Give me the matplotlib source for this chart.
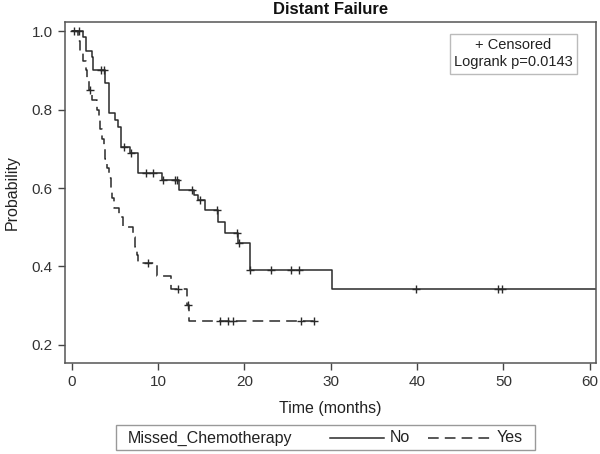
import matplotlib
matplotlib.use("Agg")
import matplotlib.pyplot as plt
from matplotlib.lines import Line2D
from matplotlib.patches import Rectangle

plt.rcParams['font.family'] = ['Liberation Sans', 'DejaVu Sans']

# ---- data ----
no_times = [0, 1.3, 1.7, 2.3, 2.5, 3.9, 4.3, 5.0, 5.4, 5.75, 6.7, 7.7, 10.4, 12.4,
            14.1, 14.6, 15.4, 16.9, 17.7, 19.3, 20.6, 30.1, 61]
no_surv = [1.0, 0.985, 0.95, 0.935, 0.90, 0.867, 0.79, 0.773, 0.756, 0.705, 0.69,
           0.638, 0.62, 0.595, 0.582, 0.57, 0.544, 0.514, 0.486, 0.459, 0.391, 0.342, 0.342]
no_cens_t = [0.3, 0.8, 3.4, 3.7, 6.1, 6.9, 8.65, 9.4, 10.6, 12.0, 12.2, 13.9, 14.8,
             16.8, 19.1, 19.4, 20.7, 23.1, 25.4, 26.3, 39.9, 49.4, 49.8]
no_cens_p = [1.0, 1.0, 0.90, 0.90, 0.705, 0.69, 0.638, 0.638, 0.62, 0.62, 0.62, 0.595,
             0.57, 0.544, 0.486, 0.459, 0.391, 0.391, 0.391, 0.391, 0.342, 0.342, 0.342]

yes_times = [0, 0.7, 1.0, 1.3, 1.6, 1.8, 2.0, 2.3, 2.9, 3.1, 3.3, 3.5, 3.7, 3.9, 4.1,
             4.3, 4.5, 4.7, 4.9, 5.5, 5.9, 7.1, 7.3, 7.5, 7.7, 9.9, 11.5, 13.3, 13.6, 28.0]
yes_surv = [1.0, 0.975, 0.95, 0.925, 0.90, 0.875, 0.85, 0.825, 0.80, 0.775, 0.75, 0.725,
            0.70, 0.675, 0.65, 0.625, 0.60, 0.575, 0.55, 0.525, 0.50, 0.475, 0.45, 0.43,
            0.41, 0.376, 0.342, 0.302, 0.26, 0.26]
yes_cens_t = [2.1, 8.8, 12.3, 13.5, 17.2, 18.1, 18.7, 26.6, 28.0]
yes_cens_p = [0.85, 0.41, 0.342, 0.302, 0.26, 0.26, 0.26, 0.26, 0.26]

xticks = [0, 10, 20, 30, 40, 50, 60]
yticks = [0.2, 0.4, 0.6, 0.8, 1.0]

col = '#2a2a2a'

fig = plt.figure(figsize=(6, 4.54), dpi=100)
ax = fig.add_axes([0.108, 0.2004, 0.885, 0.751])

ax.step(no_times, no_surv, where='post', color=col, lw=1.1)
ln, = ax.step(yes_times, yes_surv, where='post', color=col, lw=1.1)
ln.set_dashes((7, 4))
ax.plot(no_cens_t, no_cens_p, ls='none', marker='+', ms=5.5, mew=1.0, color=col)
ax.plot(yes_cens_t, yes_cens_p, ls='none', marker='+', ms=5.5, mew=1.0, color=col)

ax.set_xlim(-0.81, 60.7)
ax.set_ylim(0.154, 1.023)
ax.set_xticks(xticks)
ax.set_yticks(yticks)
ax.set_yticklabels([f'{v:.1f}' for v in yticks])
ax.tick_params(direction='out', length=5, width=1, colors='#444444', labelcolor='#333333', labelsize=11)
for s in ax.spines.values():
    s.set_color('#555555')
    s.set_linewidth(1.1)

ax.set_xlabel('Time (months)', fontsize=11.5, color='#222222', labelpad=9)
ax.set_ylabel('Probability', fontsize=11.5, color='#222222', labelpad=9)
ax.set_title('Distant Failure', fontsize=12, fontweight='bold', color='#111111', pad=6)

# censored / logrank box
ax.text(0.845, 0.952, '+ Censored\nLogrank p=0.0143', transform=ax.transAxes,
        ha='center', va='top', fontsize=10.5, color='#222222', linespacing=1.25,
        bbox=dict(boxstyle='square,pad=0.3', fc='white', ec='#bbbbbb', lw=1))

# bottom legend
W, H = 600.0, 454.0
fig.patches.append(Rectangle((116 / W, 1 - 450 / H), (535 - 116) / W, (450 - 425) / H,
                             transform=fig.transFigure, fill=False, ec='#999999', lw=1))
fig.text(128 / W, 1 - 438 / H, 'Missed_Chemotherapy', fontsize=11.5, color='#222222',
         ha='left', va='center')
fig.lines.append(Line2D([330 / W, 384 / W], [1 - 438 / H] * 2, transform=fig.transFigure,
                        color=col, lw=1.1))
fig.text(390 / W, 1 - 438 / H, 'No', fontsize=11.5, color='#222222', ha='left', va='center')
l2 = Line2D([428 / W, 490 / W], [1 - 438 / H] * 2, transform=fig.transFigure, color=col, lw=1.1)
l2.set_dashes((7, 4))
fig.lines.append(l2)
fig.text(497 / W, 1 - 438 / H, 'Yes', fontsize=11.5, color='#222222', ha='left', va='center')

fig.savefig('out.png', dpi=100)
